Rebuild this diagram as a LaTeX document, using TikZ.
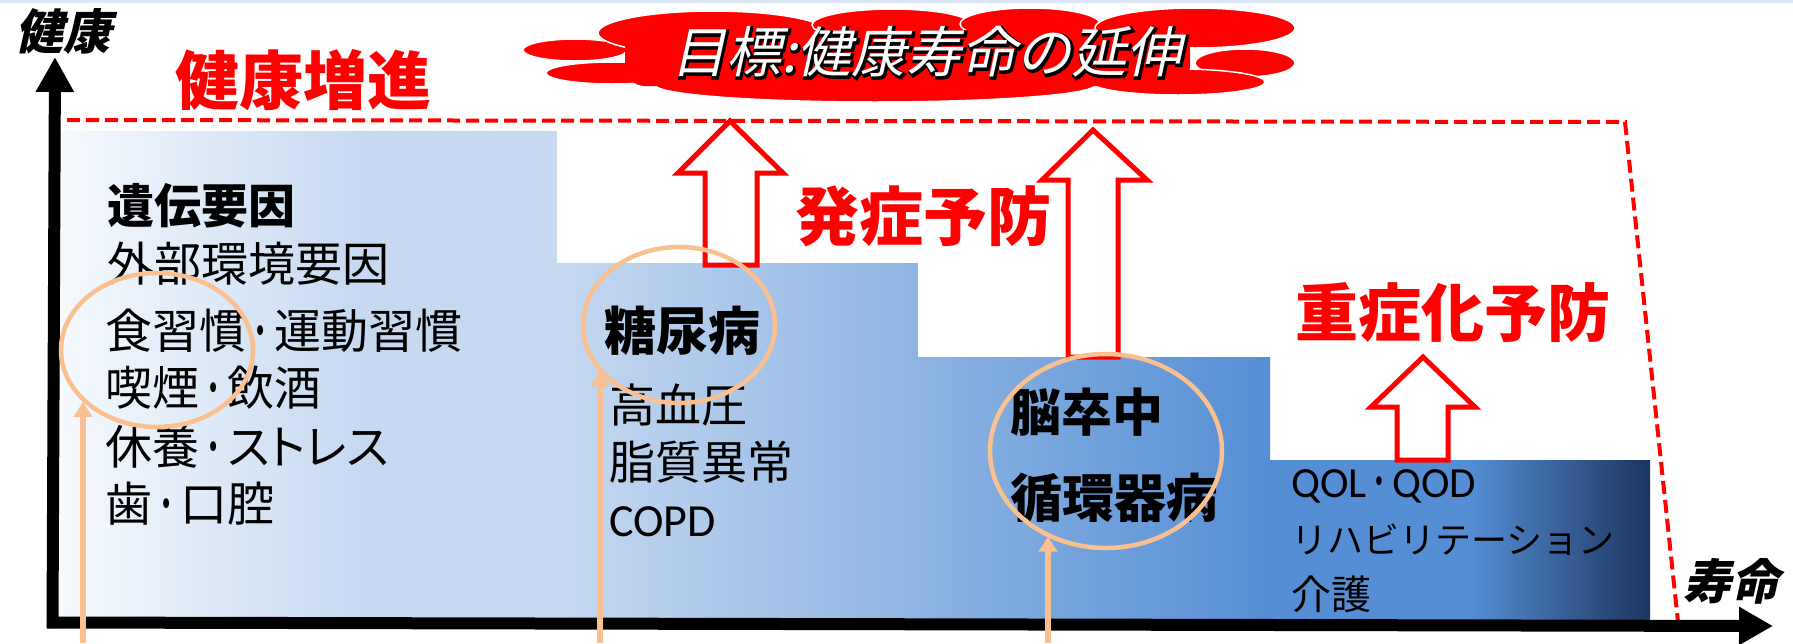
\documentclass[tikz,border=0pt]{standalone}
\usepackage{fontspec}
\usetikzlibrary{arrows.meta,shapes.geometric}
\newfontfamily\jp{Noto Sans CJK JP}
\newfontfamily\jpp{Noto Sans CJK JP}[RawFeature=+palt]
\newfontfamily\jpsl{Noto Sans CJK JP}[FakeSlant=0.22]
\newfontfamily\jpslout{Noto Sans CJK JP}[FakeSlant=0.22,FakeBold=6]
\newfontfamily\latin{Carlito}
\newcommand\ndot{{\jp\scalebox{0.6}[1]{・}}}
\definecolor{sA}{HTML}{F7FAFE}
\definecolor{sB}{HTML}{C6D9F1}
\definecolor{sC}{HTML}{8DB4E2}
\definecolor{sD}{HTML}{558ED5}
\definecolor{sE}{HTML}{1C355E}
\definecolor{oval}{HTML}{FAC08F}
\definecolor{topstrip}{HTML}{DCE6F2}
\definecolor{cloudred}{HTML}{FF0000}
\begin{document}
\begin{tikzpicture}[x=1pt,y=-1pt,
  lbl/.style={anchor=west,inner sep=0pt,text=black},
  fA/.style={font=\jp\fontsize{47}{56}\selectfont},
  fAb/.style={font=\jp\bfseries\fontsize{47}{56}\selectfont},
  redlbl/.style={anchor=west,inner sep=0pt,text=red,font=\jp\bfseries\fontsize{64}{70}\selectfont},
  axislbl/.style={anchor=west,inner sep=0pt,text=black,font=\jpsl\bfseries\fontsize{48}{52}\selectfont},
  axisline/.style={line width=12pt,black},
  reddash/.style={draw=red,line width=4pt,dash pattern=on 13pt off 6pt},
  hollow/.style={draw=red,fill=white,line width=5pt,line join=miter},
  ovalnode/.style={draw=oval,line width=4.5pt,ellipse,inner sep=0pt,fill=none},
  oarrow/.style={draw=oval,line width=6pt,-{Triangle[width=18pt,length=15pt]}},
  lobe/.style={fill=cloudred,draw=white,line width=1.5pt}
]
\useasboundingbox (0,0) rectangle (1793,643);
\fill[white] (0,0) rectangle (1793,643);
\fill[topstrip] (0,0) rectangle (1793,3);

% steps
\fill[left color=sA, right color=sB] (55,131) rectangle (360,624);
\fill[sB] (359,131) rectangle (557,624);
\fill[left color=sB, right color=sC] (556,263) rectangle (918,624);
\fill[left color=sC, right color=sD] (917,357) rectangle (1270,624);
\fill[sD] (1269,460) rectangle (1470,624);
\fill[left color=sD, right color=sE] (1469,460) rectangle (1650,624);

% cloud
\filldraw[lobe] (575,50) ellipse [x radius=52, y radius=11];
\filldraw[lobe] (612,73) ellipse [x radius=66, y radius=11];
\filldraw[lobe] (1245,63) ellipse [x radius=50, y radius=14];
\filldraw[lobe] (875,85) ellipse [x radius=220, y radius=17];
\filldraw[lobe] (1178,82) ellipse [x radius=87, y radius=13];
\filldraw[lobe] (713,33) ellipse [x radius=115, y radius=22];
\filldraw[lobe] (892,25) ellipse [x radius=80, y radius=16];
\filldraw[lobe] (1030,24) ellipse [x radius=70, y radius=16];
\filldraw[lobe] (1195,28) ellipse [x radius=100, y radius=20];
\fill[cloudred, rounded corners=20pt] (625,30) rectangle (1190,86);
\node[anchor=west,inner sep=0pt,text=black,font=\jpslout\fontsize{55}{60}\selectfont] (goalline) at (672,53) {目標:健康寿命の延伸};
\node[anchor=west,inner sep=0pt,text=white,font=\jpsl\fontsize{55}{60}\selectfont] (goal) at (671,52) {目標:健康寿命の延伸};

% dashed envelope
\coordinate (d1) at (67,120);
\coordinate (d2) at (1625,122);
\coordinate (d3) at (1678,622);
\draw[reddash] (d1) -- (d2) -- (d3);

% hollow red arrows
\draw[hollow] (730,121) -- (783,173) -- (757,173) -- (757,265) -- (705,265) -- (705,173) -- (678,173) -- cycle;
\draw[hollow] (1093,130) -- (1147,180) -- (1118,180) -- (1118,357) -- (1068,357) -- (1068,180) -- (1042,180) -- cycle;
\draw[hollow] (1423,357) -- (1475,407) -- (1448,407) -- (1448,460) -- (1397,460) -- (1397,407) -- (1371,407) -- cycle;

% axes
\coordinate (ybot) at (52.5,628);
\coordinate (ytop) at (55,57);
\coordinate (xl) at (47,622.5);
\coordinate (xr) at (1773,626);
\draw[axisline,-{Triangle[width=36pt,length=35pt]}] (ybot) -- (ytop);
\draw[axisline,-{Triangle[width=36pt,length=34pt]}] (xl) -- (xr);

% texts step 1
\node[lbl,fAb] (t11) at (107,206) {遺伝要因};
\node[lbl,fA] (t12) at (107,264) {外部環境要因};
\node[lbl,fA] (t13) at (105,331) {食習慣\ndot 運動習慣};
\node[lbl,fA] (t14) at (105,388) {喫煙\ndot 飲酒};
\node[lbl,fA] (t15) at (105,447) {休養\ndot{\jpp ストレス}};
\node[lbl,fA] (t16) at (105,504) {歯\ndot 口腔};

% step 2
\node[lbl,font=\jp\bfseries\fontsize{52}{58}\selectfont] (t21) at (604,331) {糖尿病};
\node[lbl,font=\jp\fontsize{46}{52}\selectfont] (t22) at (609,405) {高血圧};
\node[lbl,font=\jp\fontsize{46}{52}\selectfont] (t23) at (609,462) {脂質異常};
\node[lbl,font=\latin\fontsize{46}{52}\selectfont] (t24) at (609,522) {COPD};

% step 3
\node[lbl,font=\jp\bfseries\fontsize{51}{58}\selectfont] (t31) at (1010,412) {脳卒中};
\node[lbl,font=\jp\bfseries\fontsize{52}{58}\selectfont] (t32) at (1010,498) {循環器病};

% step 4
\node[lbl,font=\latin\fontsize{43}{48}\selectfont] (t41) at (1291,486) {QOL\ndot QOD};
\node[lbl,font=\jp\fontsize{36}{42}\selectfont] (t42) at (1291,540) {リハビリテーション};
\node[lbl,font=\jp\fontsize{40}{46}\selectfont] (t43) at (1291,594) {介護};

% red headings
\node[redlbl] (h1) at (175,80) {健康増進};
\node[redlbl] (h2) at (795,216) {発症予防};
\node[redlbl,font=\jp\bfseries\fontsize{63}{70}\selectfont] (h3) at (1295,313) {重症化予防};

% axis labels
\node[axislbl] (ylab) at (15,31) {健康};
\node[axislbl] (xlab) at (1683,581) {寿命};

% orange ellipses
\node[ovalnode,minimum width=192pt,minimum height=154pt] (e1) at (157,350) {};
\node[ovalnode,minimum width=192pt,minimum height=156pt] (e2) at (679,325) {};
\node[ovalnode,minimum width=232pt,minimum height=194pt] (e3) at (1106,451) {};

% orange arrows
\coordinate (a1) at (83,643);
\coordinate (a2) at (600,643);
\coordinate (a3) at (1048,643);
\draw[oarrow] (a1) -- (a1 |- e1.215.6);
\draw[oarrow] (a2) -- (a2 |- e2.210.8);
\draw[oarrow] (a3) -- (a3 |- e3.235.4);
\end{tikzpicture}
\end{document}
